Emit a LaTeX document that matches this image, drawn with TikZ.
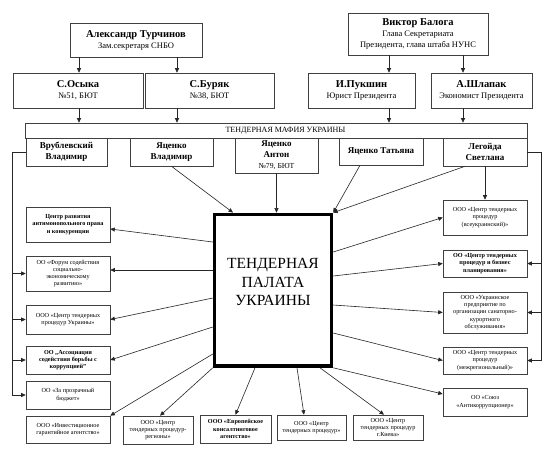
\documentclass[tikz,border=0pt]{standalone}
\usepackage{fontspec}
\setmainfont{Liberation Serif}
\usetikzlibrary{arrows.meta}
\tikzset{
 box/.style={draw=black!75, line width=0.6pt, inner sep=0pt, align=center, fill=white},
 big/.style={box, font=\fontsize{10.5}{11}\selectfont\bfseries},
 row/.style={box, font=\fontsize{9}{11}\selectfont\bfseries},
 small/.style={box, font=\fontsize{6.2}{7.3}\selectfont},
 smallb/.style={box, font=\fontsize{6.2}{7.3}\selectfont\bfseries},
 arr/.style={-{Triangle[length=4.5pt,width=4pt]}, line width=0.6pt, draw=black!85},
 ln/.style={line width=0.6pt, draw=black!85},
}
\newcommand\subt[1]{{\fontsize{8.5}{11}\selectfont\mdseries #1}}
\newcommand\boxat[6]{\node[#6, minimum width={(#4-#2)*1pt}, minimum height={(#5-#3)*1pt}] (#1) at ({(#2+#4)/2},{(#3+#5)/2})}
\begin{document}
\begin{tikzpicture}[x=1pt,y=-1pt]
\fill[white] (0,0) rectangle (550,451);
\useasboundingbox (0,0) rectangle (550,451);
% top
\boxat{tur}{70}{23}{202}{57}{big} {Александр Турчинов\\\subt{Зам.секретаря СНБО}};
\boxat{osyka}{13}{73}{143}{108}{big} {С.Осыка\\\subt{№51, БЮТ}};
\boxat{buryak}{145}{73}{274}{108}{big} {С.Буряк\\\subt{№38, БЮТ}};
\boxat{balo}{348}{13}{488}{55}{big} {Виктор Балога\\\subt{Глава Секретариата}\\\subt{Президента, глава штаба НУНС}};
\boxat{puk}{308}{73}{415}{108}{big} {И.Пукшин\\\subt{Юрист Президента}};
\boxat{shl}{431}{73}{532}{108}{big} {А.Шлапак\\\subt{Экономист Президента}};
% band
\boxat{band}{25}{123}{527}{138}{box} {};
\node[font=\fontsize{8}{9}\selectfont, inner sep=0pt] (bandtext) at (285.5,130.5) {ТЕНДЕРНАЯ МАФИЯ УКРАИНЫ};
% row
\boxat{vrub}{26}{138}{107}{166}{row} {Врублевский\\Владимир};
\boxat{yv}{130}{138}{213}{166}{row} {Яценко\\Владимир};
\boxat{ya}{235}{138}{318}{173}{row} {Яценко\\Антон\\{\fontsize{7.7}{9}\selectfont\mdseries №79, БЮТ}};
\boxat{yt}{339}{138}{423}{165}{row} {Яценко Татьяна};
\boxat{leg}{443}{138}{527}{166}{row} {Легойда\\Светлана};
% center
\node[draw, line width=3.5pt, minimum width=117pt, minimum height=151.7pt, inner sep=0pt] (cen) at (273,290.2) {};
\node[font=\fontsize{15.5}{18.5}\selectfont, align=center, inner sep=0pt] (centext) at (273,282) {ТЕНДЕРНАЯ\\ПАЛАТА\\УКРАИНЫ};
% left
\boxat{l1}{26}{207}{110}{242}{smallb} {Центр развития\\антимонопольного права\\и конкуренции};
\boxat{l2}{26}{256}{110}{291}{small} {ОО «Форум содействия\\социально-\\экономическому\\развитию»};
\boxat{l3}{26}{305}{110}{334}{small} {ООО «Центр тендерных\\процедур Украины»};
\boxat{l4}{26}{346}{110}{374}{smallb} {ОО „Ассоциация\\содействия борьбы с\\коррупцией”};
\boxat{l5}{26}{381}{110}{409}{small} {ОО «За прозрачный\\бюджет»};
% bottom
\boxat{b1}{26}{416}{110}{443}{small} {ООО «Инвестиционное\\гарантийное агентство»};
\boxat{b2}{123}{416}{193}{444}{small} {ООО «Центр\\тендерных процедур-\\регионы»};
\boxat{b3}{200}{415}{271}{443}{smallb} {ООО «Европейское\\консалтинговое\\агентство»};
\boxat{b4}{277}{415}{346}{440}{small} {ООО «Центр\\тендерных процедур»};
\boxat{b5}{353}{415}{423}{440}{small} {ООО «Центр\\тендерных процедур\\г.Киева»};
% right
\boxat{r1}{443}{200}{527}{235}{small} {ООО «Центр тендерных\\процедур\\(всеукраинский)»};
\boxat{r2}{443}{250}{527}{277}{smallb} {ОО «Центр тендерных\\процедур и бизнес\\планирования»};
\boxat{r3}{443}{292}{527}{333}{small} {ООО «Украинское\\предприятие по\\организации санаторно-\\курортного\\обслуживания»};
\boxat{r4}{443}{347}{527}{374}{small} {ООО «Центр тендерных\\процедур\\(межрегиональный)»};
\boxat{r5}{443}{388}{527}{416}{small} {ОО «Союз\\«Антикоррупционер»};
% top connectors
\draw[arr] (tur.south -| 79,0) -- (osyka.north -| 79,0);
\draw[arr] (tur.south -| 177,0) -- (buryak.north -| 177,0);
\draw[arr] (osyka.south -| 79,0) -- (band.north -| 79,0);
\draw[arr] (buryak.south -| 177,0) -- (band.north -| 177,0);
\draw[arr] (balo.south -| 389,0) -- (puk.north -| 389,0);
\draw[arr] (balo.south -| 463,0) -- (shl.north -| 463,0);
\draw[arr] (puk.south -| 389,0) -- (band.north -| 389,0);
\draw[arr] (shl.south -| 463,0) -- (band.north -| 463,0);
% buses
\draw[ln] (vrub.west) -- (vrub.west -| 12,0) -- (l5.west -| 12,0);
\foreach \n in {l2,l3,l4,l5} \draw[arr] (\n.west -| 12,0) -- (\n.west);
\draw[ln] (leg.east) -- (leg.east -| 541,0) -- (r4.east -| 541,0);
\foreach \n in {r2,r3,r4} \draw[arr] (\n.east -| 541,0) -- (\n.east);
\draw[arr] (leg.south) -- (r1.north);
% into center
\draw[arr] (yv.south) -- (cen.north -| 233,0);
\draw[arr] (ya.south) -- (cen.north -| ya.south);
\draw[arr] ([xshift=-21pt]yt.south) -- (cen.north east);
\draw[arr] ([xshift=-20pt]leg.south) -- (cen.north east);
% out of center
\draw[arr] (cen.west |- 0,242) -- (l1.east |- 0,229);
\draw[arr] (cen.west |- 0,270) -- (l2.east |- 0,270);
\draw[arr] (cen.west |- 0,298) -- (l3.east);
\draw[arr] (cen.west |- 0,327) -- (l4.east);
\draw[arr] (cen.west |- 0,354) -- (b1.north east);
\draw[arr] (cen.south west) -- (b2.north -| 160,0);
\draw[arr] (cen.south -| 255,0) -- (b3.north);
\draw[arr] (cen.south -| 297,0) -- (b4.north -| 304,0);
\draw[arr] (cen.south -| 320,0) -- (b5.north -| 384,0);
\draw[arr] (cen.south east) -- (r5.west |- 0,394);
\draw[arr] (cen.east |- 0,333) -- (r4.west);
\draw[arr] (cen.east |- 0,305) -- (r3.west);
\draw[arr] (cen.east |- 0,276) -- (r2.west);
\draw[arr] (cen.east |- 0,252) -- (r1.west);
\end{tikzpicture}
\end{document}
